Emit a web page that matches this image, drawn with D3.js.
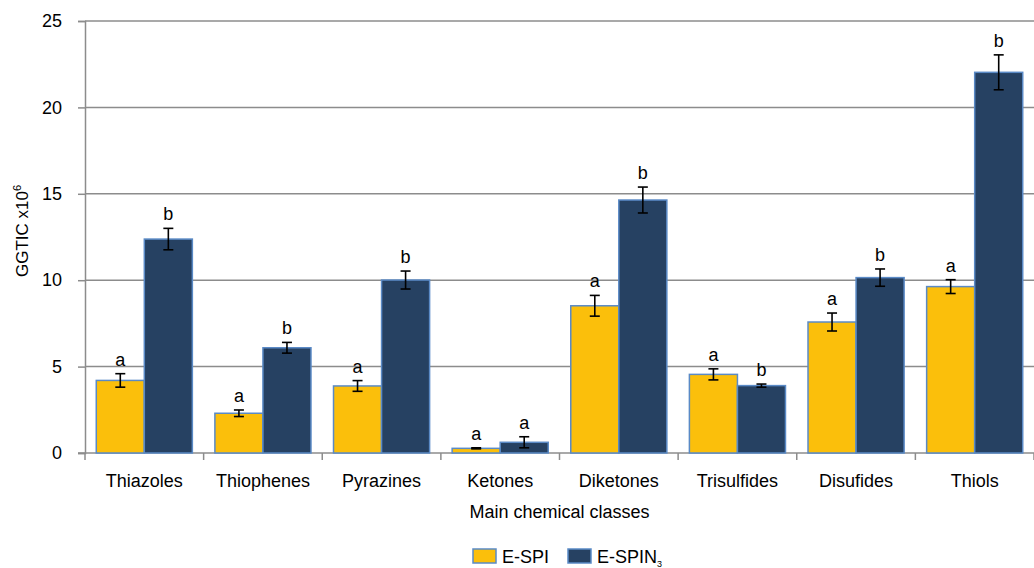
<!DOCTYPE html>
<html>
<head>
<meta charset="utf-8">
<script src="https://cdn.jsdelivr.net/npm/d3@7"></script>
<style>
  body { margin: 0; background: #fff; }
  #chart text { font-family: "Liberation Sans", Arial, sans-serif; fill: #000; }
</style>
</head>
<body>
<div id="chart"></div>
<script>
// data
const categories = ["Thiazoles", "Thiophenes", "Pyrazines", "Ketones", "Diketones", "Trisulfides", "Disufides", "Thiols"];
const seriesNames = ["E-SPI", "E-SPIN"];
const espi = [4.2, 2.3, 3.88, 0.27, 8.52, 4.55, 7.58, 9.63];
const espiErr = [0.39, 0.19, 0.31, 0.03, 0.6, 0.32, 0.52, 0.4];
const espin = [12.38, 6.09, 10.01, 0.62, 14.64, 3.9, 10.15, 22.03];
const espinErr = [0.62, 0.31, 0.52, 0.32, 0.75, 0.09, 0.5, 1.01];
const espiLetters = ["a", "a", "a", "a", "a", "a", "a", "a"];
const espinLetters = ["b", "b", "b", "a", "b", "b", "b", "b"];
const yTicks = [0, 5, 10, 15, 20, 25];

const color = ["#fbbf0b", "#264162"];
const border = "#5a8ac6";
const fontSize = "18px";

const width = 1034, height = 568;
const margin = {top: 21, right: 0, bottom: 115, left: 85};
const mwidth = width - margin.left - margin.right;
const mheight = height - margin.top - margin.bottom;

const svg = d3.select("#chart").append("svg")
    .attr("width", width)
    .attr("height", height);

const x0 = d3.scaleBand()
    .domain(categories)
    .range([0, mwidth])
    .paddingInner(0.19)
    .paddingOuter(0.095);
const x1 = d3.scaleBand()
    .domain(seriesNames)
    .range([0, x0.bandwidth()]);
const xEdge = d3.scaleLinear().domain([0, categories.length]).range([0, mwidth]);

const yScale = d3.scaleLinear()
    .domain([0, 25])
    .range([mheight, 0]);

const g = svg.append("g")
    .attr("transform", "translate(" + margin.left + "," + margin.top + ")");

// gridlines
g.selectAll(".grid")
    .data(yTicks.slice(1))
    .enter().append("line")
    .attr("x1", 0).attr("x2", mwidth)
    .attr("y1", d => yScale(d)).attr("y2", d => yScale(d))
    .attr("stroke", "#8c8c8c").attr("stroke-width", 1.5);

// y axis
const yAxis = d3.axisLeft(yScale)
    .tickValues(yTicks)
    .tickSize(7)
    .tickPadding(16);
g.append("g")
    .call(yAxis)
    .call(a => a.select(".domain").attr("stroke", "#8c8c8c").attr("stroke-width", 1.5))
    .call(a => a.selectAll(".tick line").attr("stroke", "#8c8c8c").attr("stroke-width", 1.5))
    .call(a => a.selectAll(".tick text").style("font-size", fontSize));

// x axis baseline + boundary ticks
g.append("line")
    .attr("x1", -7).attr("x2", mwidth)
    .attr("y1", mheight).attr("y2", mheight)
    .attr("stroke", "#8c8c8c").attr("stroke-width", 1.5);
g.selectAll(".xtick")
    .data(d3.range(categories.length + 1))
    .enter().append("line")
    .attr("x1", d => xEdge(d)).attr("x2", d => xEdge(d))
    .attr("y1", mheight).attr("y2", mheight + 7)
    .attr("stroke", "#8c8c8c").attr("stroke-width", 1.5);
g.selectAll(".xlabel")
    .data(categories)
    .enter().append("text")
    .attr("x", d => x0(d) + x0.bandwidth() / 2)
    .attr("y", mheight + 34)
    .attr("text-anchor", "middle")
    .style("font-size", fontSize)
    .text(d => d);

// bars
const rows = [];
categories.forEach((c, i) => {
    rows.push({cat: c, s: seriesNames[0], v: espi[i], e: espiErr[i], l: espiLetters[i], color: color[0]});
    rows.push({cat: c, s: seriesNames[1], v: espin[i], e: espinErr[i], l: espinLetters[i], color: color[1]});
});

g.selectAll("rect.bar")
    .data(rows)
    .enter().append("rect")
    .attr("class", "bar")
    .attr("x", d => x0(d.cat) + x1(d.s))
    .attr("width", x1.bandwidth())
    .attr("y", d => yScale(d.v))
    .attr("height", d => mheight - yScale(d.v))
    .attr("fill", d => d.color)
    .attr("stroke", border)
    .attr("stroke-width", 1.5);

// error bars
const eb = g.selectAll(".err")
    .data(rows)
    .enter().append("g")
    .attr("transform", d => "translate(" + (x0(d.cat) + x1(d.s) + x1.bandwidth() / 2) + ",0)");
eb.append("line")
    .attr("y1", d => yScale(d.v + d.e)).attr("y2", d => yScale(d.v - d.e))
    .attr("stroke", "#000").attr("stroke-width", 1.6);
eb.append("line")
    .attr("x1", -5).attr("x2", 5)
    .attr("y1", d => yScale(d.v + d.e)).attr("y2", d => yScale(d.v + d.e))
    .attr("stroke", "#000").attr("stroke-width", 1.6);
eb.append("line")
    .attr("x1", -5).attr("x2", 5)
    .attr("y1", d => yScale(d.v - d.e)).attr("y2", d => yScale(d.v - d.e))
    .attr("stroke", "#000").attr("stroke-width", 1.6);
eb.append("text")
    .attr("y", d => yScale(d.v + d.e) - 8)
    .attr("text-anchor", "middle")
    .style("font-size", fontSize)
    .text(d => d.l);

// y axis label
svg.append("text")
    .attr("transform", "translate(28,231) rotate(-90)")
    .attr("text-anchor", "middle")
    .style("font-size", "17px")
    .text("GGTIC x10")
    .append("tspan")
    .attr("dy", -7)
    .style("font-size", "11px")
    .text("6");

// x axis label
svg.append("text")
    .attr("x", margin.left + mwidth / 2)
    .attr("y", 518)
    .attr("text-anchor", "middle")
    .style("font-size", fontSize)
    .text("Main chemical classes");

// legend
const legend = svg.append("g").attr("transform", "translate(473,549)");
const legendItems = [{name: "E-SPI", sub: "", x: 0}, {name: "E-SPIN", sub: "3", x: 95}];
const li = legend.selectAll(".li")
    .data(legendItems)
    .enter().append("g")
    .attr("transform", d => "translate(" + d.x + ",0)");
li.append("rect")
    .attr("width", 23).attr("height", 14)
    .attr("fill", (d, i) => color[i])
    .attr("stroke", border).attr("stroke-width", 1.5);
const lt = li.append("text")
    .attr("x", 29).attr("y", 14)
    .style("font-size", fontSize)
    .text(d => d.name);
lt.append("tspan")
    .attr("dy", 4)
    .style("font-size", "9px")
    .text(d => d.sub);
</script>
</body>
</html>
